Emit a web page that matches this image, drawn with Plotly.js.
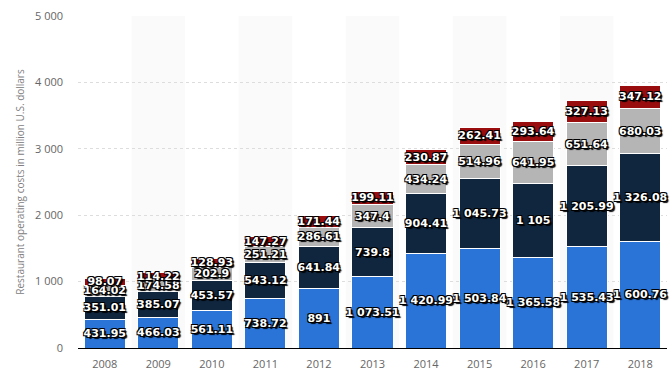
<!DOCTYPE html>
<html>
<head>
<meta charset="utf-8">
<script src="https://cdn.plot.ly/plotly-3.0.1.min.js"></script>
<style>html,body{margin:0;padding:0;background:#fff;}#chart{width:671px;height:383px;}</style>
</head>
<body>
<div id="chart"></div>
<script>
const years = ["2008","2009","2010","2011","2012","2013","2014","2015","2016","2017","2018"];
const seriesA = [431.95, 466.03, 561.11, 738.72, 891, 1073.51, 1420.99, 1503.84, 1365.58, 1535.43, 1600.76];
const seriesB = [351.01, 385.07, 453.57, 543.12, 641.84, 739.8, 904.41, 1045.73, 1105, 1205.99, 1326.08];
const seriesC = [164.02, 174.58, 202.9, 251.21, 286.61, 347.4, 434.24, 514.96, 641.95, 651.64, 680.03];
const seriesD = [98.07, 114.22, 128.93, 147.27, 171.44, 199.11, 230.87, 262.41, 293.64, 327.13, 347.12];
const yTicks = [0, 1000, 2000, 3000, 4000, 5000];

const colors = ["#2a74d8", "#10263f", "#b5b5b5", "#9a0d0f"];
const shadow = "1px 1px 0 #000, -1px -1px 0 #000, 1px -1px 0 #000, -1px 1px 0 #000, 2px 2px 1px #000";

function trace(vals, color) {
  return {
    type: "bar", x: years, y: vals,
    marker: {color: color, line: {color: "#ffffff", width: 1}},
    texttemplate: "%{y:,}",
    textposition: "inside",
    insidetextanchor: "middle",
    constraintext: "none",
    textangle: 0,
    textfont: {family: "DejaVu Sans", size: 11, color: "#ffffff", weight: "bold", shadow: shadow},
    hoverinfo: "skip",
    cliponaxis: false
  };
}

const data = [
  trace(seriesA, colors[0]),
  trace(seriesB, colors[1]),
  trace(seriesC, colors[2]),
  trace(seriesD, colors[3])
];

const shapes = years.map((y, i) => i % 2 === 1 ? {
  type: "rect", xref: "x", yref: "paper", x0: i - 0.5, x1: i + 0.5, y0: 0, y1: 1,
  fillcolor: "#fafafa", line: {width: 0}, layer: "below"
} : null).filter(Boolean);

const layout = {
  width: 671, height: 383,
  margin: {l: 78, r: 4, t: 16, b: 35},
  barmode: "stack",
  bargap: 0.234,
  separators: ". ",
  showlegend: false,
  plot_bgcolor: "#ffffff",
  paper_bgcolor: "#ffffff",
  font: {family: "Open Sans", color: "#666666"},
  shapes: shapes,
  xaxis: {
    type: "category",
    tickfont: {family: "Open Sans", size: 11, color: "#666666"},
    showline: true, linecolor: "#000000", linewidth: 1,
    showgrid: false, ticks: "", ticklabelstandoff: 6,
    fixedrange: true
  },
  yaxis: {
    range: [0, 5000],
    tickvals: yTicks,
    tickformat: ",",
    tickfont: {family: "Open Sans", size: 11, color: "#666666"},
    showgrid: true, gridcolor: "#dddddd", griddash: "dot", gridwidth: 1,
    zeroline: false, showline: false, ticks: "",
    ticklabelstandoff: 14,
    title: {text: "Restaurant operating costs in million U.S. dollars", font: {family: "Open Sans", size: 10, color: "#808080"}, standoff: 8},
    fixedrange: true
  }
};

Plotly.newPlot("chart", data, layout, {displayModeBar: false, staticPlot: true});
</script>
</body>
</html>
